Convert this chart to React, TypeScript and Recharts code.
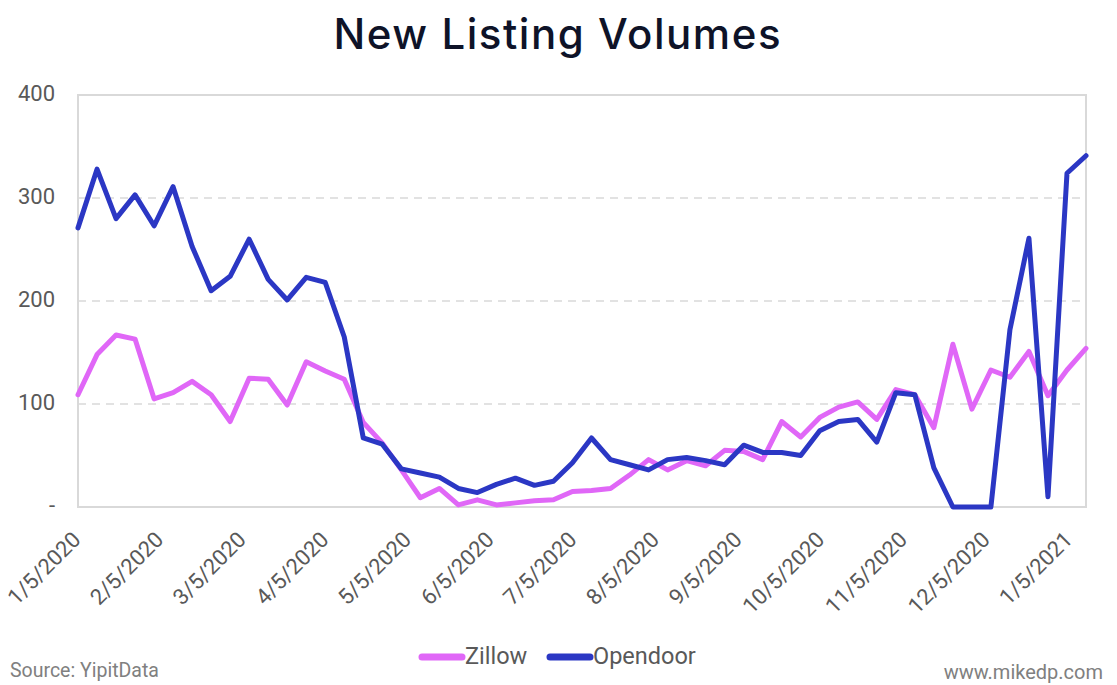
import React from "react";
import { LineChart, Line, XAxis, YAxis, CartesianGrid, ReferenceArea } from "recharts";

const weeks: string[] = [
  "1/5/2020", "1/12/2020", "1/19/2020", "1/26/2020", "2/2/2020", "2/9/2020", "2/16/2020", "2/23/2020",
  "3/1/2020", "3/8/2020", "3/15/2020", "3/22/2020", "3/29/2020", "4/5/2020", "4/12/2020", "4/19/2020",
  "4/26/2020", "5/3/2020", "5/10/2020", "5/17/2020", "5/24/2020", "5/31/2020", "6/7/2020", "6/14/2020",
  "6/21/2020", "6/28/2020", "7/5/2020", "7/12/2020", "7/19/2020", "7/26/2020", "8/2/2020", "8/9/2020",
  "8/16/2020", "8/23/2020", "8/30/2020", "9/6/2020", "9/13/2020", "9/20/2020", "9/27/2020", "10/4/2020",
  "10/11/2020", "10/18/2020", "10/25/2020", "11/1/2020", "11/8/2020", "11/15/2020", "11/22/2020", "11/29/2020",
  "12/6/2020", "12/13/2020", "12/20/2020", "12/27/2020", "1/3/2021", "1/10/2021",
];

const zillow: number[] = [
  109, 148, 167, 163, 105, 111, 122, 109, 83, 125, 124, 99, 141, 132, 124, 82,
  62, 36, 9, 18, 2, 7, 2, 4, 6, 7, 15, 16, 18, 31, 46, 36,
  45, 40, 55, 54, 46, 83, 68, 87, 97, 102, 85, 114, 109, 77, 158, 95,
  133, 126, 151, 108, 133, 154,
];

const opendoor: number[] = [
  271, 328, 280, 303, 273, 311, 253, 210, 224, 260, 221, 201, 223, 218, 165, 67,
  61, 37, 33, 29, 18, 14, 22, 28, 21, 25, 43, 67, 46, 41, 36, 46,
  48, 45, 41, 60, 53, 53, 50, 74, 83, 85, 63, 111, 109, 38, 0, 0,
  0, 172, 261, 10, 324, 341,
];

const tickLabels: string[] = [
  "1/5/2020", "2/5/2020", "3/5/2020", "4/5/2020", "5/5/2020", "6/5/2020", "7/5/2020",
  "8/5/2020", "9/5/2020", "10/5/2020", "11/5/2020", "12/5/2020", "1/5/2021",
];

const yTicks: number[] = [0, 100, 200, 300, 400];

const data = weeks.map((w, i) => ({ idx: i, week: w, Zillow: zillow[i], Opendoor: opendoor[i] }));
const lastTick = 52.15;
const xTicks = tickLabels.map((_, k) => (k * lastTick) / (tickLabels.length - 1));

const FONT = "Roboto, 'Noto Sans', sans-serif";
const GRAY = "#595959";
const PINK = "#e067f7";
const BLUE = "#2b37c4";

const XTick = (props: any) => {
  const { x, index } = props;
  const ax = x + 4;
  const ay = 541;
  return (
    <text
      x={ax}
      y={ay}
      textAnchor="end"
      fontFamily={FONT}
      fontSize={22}
      fill={GRAY}
      transform={`rotate(-45 ${ax} ${ay})`}
    >
      {tickLabels[index]}
    </text>
  );
};

const YTick = (props: any) => {
  const { y, payload } = props;
  return (
    <text x={55} y={y} dy={6} textAnchor="end" fontFamily={FONT} fontSize={22} fill={GRAY}>
      {payload.value === 0 ? "-" : String(payload.value)}
    </text>
  );
};

export default function App() {
  return (
    <div style={{ position: "absolute", left: 0, top: 0, width: 1117, height: 685, background: "#fff" }}>
      <LineChart width={1117} height={685} data={data} margin={{ top: 95, right: 31, left: 0, bottom: 0 }}>
        <CartesianGrid vertical={false} stroke="#d9d9d9" strokeWidth={1.5} strokeDasharray="8 6" />
        <ReferenceArea x1={0} x2={53} y1={0} y2={400} fill="none" stroke="#d9d9d9" strokeWidth={2} ifOverflow="visible" />
        <XAxis
          type="number"
          dataKey="idx"
          domain={[0, 53]}
          ticks={xTicks}
          interval={0}
          axisLine={false}
          tickLine={false}
          height={178}
          tick={<XTick />}
        />
        <YAxis
          domain={[0, 400]}
          ticks={yTicks}
          axisLine={false}
          tickLine={false}
          width={78}
          tick={<YTick />}
        />
        <Line type="linear" dataKey="Zillow" stroke={PINK} strokeWidth={5} dot={false} strokeLinejoin="round" strokeLinecap="round" isAnimationActive={false} />
        <Line type="linear" dataKey="Opendoor" stroke={BLUE} strokeWidth={5} dot={false} strokeLinejoin="round" strokeLinecap="round" isAnimationActive={false} />
      </LineChart>
      <svg width={1117} height={685} style={{ position: "absolute", left: 0, top: 0, pointerEvents: "none" }}>
        <text x={557} y={49} textAnchor="middle" fontFamily="Inter, sans-serif" fontWeight={500} fontSize={42} fill="#0e1328" textLength={447} lengthAdjust="spacing">
          New Listing Volumes
        </text>
        <line x1={422} y1={657} x2={462} y2={657} stroke={PINK} strokeWidth={7} strokeLinecap="round" />
        <text x={465} y={664} fontFamily={FONT} fontSize={23.5} fill={GRAY}>Zillow</text>
        <line x1={550} y1={657} x2={590} y2={657} stroke={BLUE} strokeWidth={7} strokeLinecap="round" />
        <text x={593} y={664} fontFamily={FONT} fontSize={23.5} fill={GRAY}>Opendoor</text>
        <text x={10} y={677} fontFamily={FONT} fontSize={19.5} fill="#808080">Source: YipitData</text>
        <text x={1103} y={679} textAnchor="end" fontFamily={FONT} fontSize={20} fill="#808080">www.mikedp.com</text>
      </svg>
    </div>
  );
}
